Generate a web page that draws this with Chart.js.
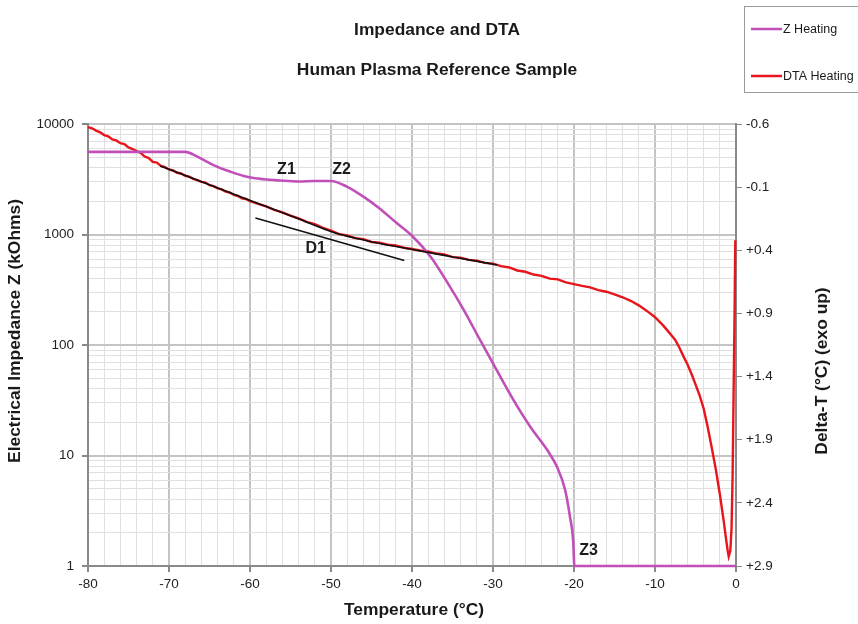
<!DOCTYPE html>
<html><head><meta charset="utf-8">
<script src="https://cdn.jsdelivr.net/npm/chart.js@4.4.1/dist/chart.umd.min.js"></script>
<style>html,body{margin:0;padding:0;background:#fff;} #wrap{position:relative;width:858px;height:624px;}</style>
</head><body><div id="wrap"><canvas id="c" width="858" height="624"></canvas></div>
<script>
const FONT = '"Liberation Sans", Arial, Helvetica, sans-serif';

const titleText = 'Impedance and DTA';
const subtitleText = 'Human Plasma Reference Sample';
const xAxisTitle = 'Temperature (°C)';
const zAxisTitle = 'Electrical Impedance Z (kOhms)';
const dtaAxisTitle = 'Delta-T (°C) (exo up)';
const seriesNames = ['Z Heating', 'DTA Heating'];

const xTickLabels = [-80, -70, -60, -50, -40, -30, -20, -10, 0];
const zTickLabels = [1, 10, 100, 1000, 10000];
const dtaTickLabels = [-0.6, -0.1, 0.4, 0.9, 1.4, 1.9, 2.4, 2.9];

const zTemps  = [-80, -68, -66.5, -64.5, -62.4, -60.4, -58.3, -56.3, -54, -52, -50, -48, -46, -44, -42, -40, -37.7, -35.7, -33.6, -31.6, -29.9, -27.5, -25.4, -23.3, -22.1, -21.1, -20.5, -20.1, -19.95, 0];
const zValues = [5600, 5600, 5060, 4250, 3700, 3330, 3160, 3080, 3020, 3050, 3050, 2700, 2200, 1720, 1290, 975, 630, 375, 207, 111, 66, 32, 18.2, 11.2, 7.9, 4.9, 2.8, 1.7, 1, 1];

const dtaTemps = [-80,-79.5,-79,-78.5,-78,-77.5,-77,-76.5,-76,-75.5,-75,-74.5,-74,-73.5,-73,-72.5,-72,-71.5,-71,-70.5,-70,-69.5,-69,-68.5,-68,-67.5,-67,-66.5,-66,-65.5,-65,-64.5,-64,-63.5,-63,-62.5,-62,-61.5,-61,-60.5,-60,-59,-58,-57,-56,-55,-54,-53,-52,-51,-50,-49,-48,-47,-46,-45,-44,-43,-42,-41,-40,-39,-38,-37,-36,-35,-34,-33,-32,-31,-30,-29,-28,-27,-26,-25,-24,-23,-22,-21,-20,-19,-18,-17,-16,-15,-14,-13,-12,-11,-10,-9,-8.5,-8,-7.5,-7,-6.5,-6,-5.5,-5,-4.5,-4,-3.5,-3,-2.5,-2,-1.5,-1.2,-1,-0.9,-0.7,-0.55,-0.42,-0.3,-0.17,-0.09];
const dtaValues = [-0.575,-0.566,-0.548,-0.534,-0.512,-0.503,-0.478,-0.470,-0.448,-0.440,-0.414,-0.402,-0.386,-0.372,-0.342,-0.330,-0.300,-0.294,-0.268,-0.258,-0.240,-0.232,-0.214,-0.208,-0.190,-0.183,-0.166,-0.156,-0.142,-0.136,-0.115,-0.108,-0.090,-0.082,-0.064,-0.058,-0.038,-0.030,-0.012,-0.006,0.010,0.032,0.052,0.080,0.100,0.126,0.148,0.175,0.192,0.222,0.244,0.272,0.282,0.304,0.312,0.334,0.340,0.356,0.362,0.380,0.390,0.402,0.410,0.426,0.432,0.454,0.458,0.476,0.482,0.500,0.506,0.526,0.536,0.560,0.570,0.592,0.602,0.624,0.630,0.654,0.668,0.682,0.694,0.716,0.728,0.750,0.772,0.800,0.836,0.880,0.930,0.995,1.032,1.070,1.110,1.170,1.238,1.302,1.378,1.462,1.548,1.652,1.798,1.962,2.132,2.330,2.552,2.700,2.790,2.825,2.780,2.600,2.190,1.550,0.870,0.320];

const fitTemps  = [-71.07, -66.14, -59.96, -53.79, -49.47, -45.15, -39.96, -35.27, -29.47];
const fitValues = [-0.268, -0.146, 0.006, 0.157, 0.263, 0.330, 0.394, 0.449, 0.516];

const tangentTemps  = [-59.33, -40.95];
const tangentValues = [0.144, 0.481];

const noteTexts = ['Z1', 'Z2', 'D1', 'Z3'];
const noteTemps = [-55.5, -48.7, -51.9, -18.2];
const noteZ     = [3835, 3835, 739, 1.37];

const COL_Z = '#c050b8';
const COL_DTA = '#e8161c';

function pts(xs, ys) { return xs.map((x, i) => ({ x: x, y: ys[i] })); }
function isDecade(v) { const l = Math.log10(v); return Math.abs(l - Math.round(l)) < 1e-9; }

const decor = {
  id: 'decor',
  afterDatasetsDraw(chart) {
    const ctx = chart.ctx;
    const xs = chart.scales.x, ys = chart.scales.y;
    ctx.save();
    ctx.fillStyle = '#1c1c1c';
    ctx.textAlign = 'center';
    ctx.textBaseline = 'middle';
    ctx.font = 'bold 16px ' + FONT;
    noteTexts.forEach((t, i) => {
      ctx.fillText(t, xs.getPixelForValue(noteTemps[i]), ys.getPixelForValue(noteZ[i]));
    });
    ctx.restore();
  },
  afterDraw(chart) {
    const ctx = chart.ctx;
    ctx.save();
    ctx.fillStyle = '#1a1a1a';
    ctx.textAlign = 'center';
    ctx.textBaseline = 'middle';
    ctx.font = 'bold 17.4px ' + FONT;
    ctx.fillText(titleText, 437, 30);
    ctx.fillText(subtitleText, 437, 70);
    ctx.fillText(xAxisTitle, 414, 610);
    ctx.save(); ctx.translate(15, 331); ctx.rotate(-Math.PI / 2); ctx.fillText(zAxisTitle, 0, 0); ctx.restore();
    ctx.save(); ctx.translate(822, 371); ctx.rotate(-Math.PI / 2); ctx.fillText(dtaAxisTitle, 0, 0); ctx.restore();
    // legend
    ctx.strokeStyle = '#9a9a9a';
    ctx.lineWidth = 1;
    ctx.strokeRect(744.5, 6.5, 140, 86);
    const items = [[seriesNames[0], COL_Z, 29], [seriesNames[1], COL_DTA, 76]];
    ctx.textAlign = 'left';
    ctx.font = '12.5px ' + FONT;
    items.forEach(([name, col, y]) => {
      ctx.strokeStyle = col; ctx.lineWidth = 2.5;
      ctx.beginPath(); ctx.moveTo(751, y); ctx.lineTo(782, y); ctx.stroke();
      ctx.fillStyle = '#1a1a1a';
      ctx.fillText(name, 783, y + 1);
    });
    ctx.restore();
  }
};

const minorTemps = [];
for (let t = xTickLabels[0]; t <= xTickLabels[xTickLabels.length - 1] + 1e-9; t += 2) minorTemps.push(t);
const zGridVals = [];
for (let d = 0; d < zTickLabels.length - 1; d++) {
  for (let m = 1; m <= 9; m++) zGridVals.push(zTickLabels[d] * m);
}
zGridVals.push(zTickLabels[zTickLabels.length - 1]);

new Chart(document.getElementById('c'), {
  type: 'line',
  data: {
    datasets: [
      { label: 'fit', data: pts(fitTemps, fitValues), yAxisID: 'y2', borderColor: '#111', borderWidth: 1.6, pointRadius: 0, cubicInterpolationMode: 'monotone', fill: false },
      { label: 'tangent', data: pts(tangentTemps, tangentValues), yAxisID: 'y2', borderColor: '#111', borderWidth: 1.6, pointRadius: 0, fill: false },
      { label: seriesNames[0], data: pts(zTemps, zValues), yAxisID: 'y', borderColor: COL_Z, borderWidth: 2.6, pointRadius: 0, cubicInterpolationMode: 'monotone', fill: false, clip: 6 },
      { label: seriesNames[1], data: pts(dtaTemps, dtaValues), yAxisID: 'y2', borderColor: COL_DTA, borderWidth: 2.4, pointRadius: 0, tension: 0, fill: false, clip: 6 }
    ]
  },
  options: {
    responsive: false,
    animation: false,
    events: [],
    layout: { padding: { top: 124, left: 0, right: 0, bottom: 0 } },
    plugins: { legend: { display: false }, tooltip: { enabled: false }, title: { display: false } },
    scales: {
      x: {
        type: 'linear', min: -80, max: 0,
        afterBuildTicks: s => { s.ticks = minorTemps.map(v => ({ value: v })); },
        afterFit: s => { s.height = 58; },
        ticks: { autoSkip: false, maxRotation: 0, padding: 4, color: '#222', font: { family: FONT, size: 13.5 },
          callback: v => xTickLabels.includes(v) ? String(v) : '' },
        grid: {
          color: c => (c.tick && xTickLabels.includes(c.tick.value)) ? '#c4c4c4' : '#e0e0e0',
          lineWidth: c => (c.tick && xTickLabels.includes(c.tick.value)) ? 2 : 1,
          tickColor: c => (c.tick && xTickLabels.includes(c.tick.value)) ? '#888' : 'rgba(0,0,0,0)',
          tickLength: 6
        },
        border: { color: '#8a8a8a', width: 2 }
      },
      y: {
        type: 'logarithmic', position: 'left', min: 1, max: 10000,
        afterBuildTicks: s => { s.ticks = zGridVals.map(v => ({ value: v })); },
        afterFit: s => { s.width = 88; },
        ticks: { autoSkip: false, padding: 8, color: '#222', font: { family: FONT, size: 13.5 },
          callback: v => isDecade(v) ? String(Math.round(v)) : '' },
        grid: {
          color: c => (c.tick && isDecade(c.tick.value)) ? '#c4c4c4' : '#e0e0e0',
          lineWidth: c => (c.tick && isDecade(c.tick.value)) ? 2 : 1,
          tickColor: c => (c.tick && isDecade(c.tick.value)) ? '#888' : 'rgba(0,0,0,0)',
          tickLength: 6
        },
        border: { color: '#8a8a8a', width: 2 }
      },
      y2: {
        type: 'linear', position: 'right', reverse: true, min: -0.6, max: 2.9,
        afterBuildTicks: s => { s.ticks = dtaTickLabels.map(v => ({ value: v })); },
        afterFit: s => { s.width = 122; },
        ticks: { autoSkip: false, padding: 4, color: '#222', font: { family: FONT, size: 13.5 },
          callback: v => (v > 0 ? '+' : '') + v.toFixed(1) },
        grid: { drawOnChartArea: false, tickColor: '#888', tickLength: 6 },
        border: { color: '#8a8a8a', width: 2 }
      }
    }
  },
  plugins: [decor]
});
</script>
</body></html>
